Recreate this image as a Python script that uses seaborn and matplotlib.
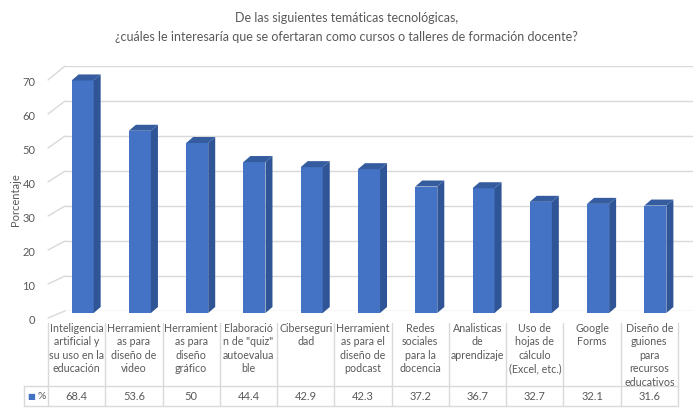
import numpy as np
import pandas as pd
import matplotlib
matplotlib.use("Agg")
import matplotlib.pyplot as plt
import seaborn as sns
from matplotlib.transforms import ScaledTranslation, blended_transform_factory
from matplotlib.patches import Polygon, ConnectionPatch
from matplotlib.lines import Line2D

# ---------------- data ----------------
title_lines = ["De las siguientes temáticas tecnológicas,",
               "¿cuáles le interesaría que se ofertaran como cursos o talleres de formación docente?"]
categories = ["Inteligencia\nartificial y\nsu uso en la\neducación",
              "Herramient\nas para\ndiseño de\nvideo",
              "Herramient\nas para\ndiseño\ngráfico",
              "Elaboració\nn de \"quiz\"\nautoevalua\nble",
              "Ciberseguri\ndad",
              "Herramient\nas para el\ndiseño de\npodcast",
              "Redes\nsociales\npara la\ndocencia",
              "Analisticas\nde\naprendizaje",
              "Uso de\nhojas de\ncálculo\n(Excel, etc.)",
              "Google\nForms",
              "Diseño de\nguiones\npara\nrecursos\neducativos"]
values = [68.4, 53.6, 50, 44.4, 42.9, 42.3, 37.2, 36.7, 32.7, 32.1, 31.6]
value_labels = ["68.4", "53.6", "50", "44.4", "42.9", "42.3", "37.2", "36.7", "32.7", "32.1", "31.6"]
series_name = "%"
y_ticks = [0, 10, 20, 30, 40, 50, 60, 70]
y_label = "Porcentaje"

# ---------------- style ----------------
sns.set_theme(style="white")
plt.rcParams["font.family"] = ["Lato", "DejaVu Sans"]
TXT = "#595959"
GRID = "#D9D9D9"
FRONT = "#4472C4"
SIDE = "#2F5597"
TOP = "#345C9F"

W, H, DPI = 693, 410, 100
fig = plt.figure(figsize=(W / DPI, H / DPI), dpi=DPI)

def fx(px):
    return px / W

def fy(py):
    return 1 - py / H

# back wall (gridlines)
back_left, back_right, back_y0, back_y70 = 65, 693, 312, 67
ax_back = fig.add_axes([fx(back_left), fy(back_y0), fx(back_right - back_left),
                        (back_y0 - back_y70) / H])
ax_back.set_ylim(0, 70)
ax_back.set_xlim(0, 1)
for s in ax_back.spines.values():
    s.set_visible(False)
ax_back.set_xticks([])
ax_back.set_yticks(y_ticks)
ax_back.tick_params(axis="y", length=0, labelleft=False)
ax_back.yaxis.grid(True, color=GRID, lw=1.0)
ax_back.set_facecolor("none")

# front axes (labels, bars)
col_left, col_right = 48, 678
front_y0, front_y70 = 319, 81
ax = fig.add_axes([fx(col_left), fy(front_y0), fx(col_right - col_left),
                   (front_y0 - front_y70) / H])
ax.set_facecolor("none")
df = pd.DataFrame({"cat": categories, "val": values})
sns.barplot(data=df, x="cat", y="val", color=FRONT, saturation=1, width=0.385,
            ax=ax, zorder=3)
ax.set_xlim(-0.5, len(categories) - 0.5)
ax.set_ylim(0, 70)
ax.set_yticks(y_ticks)
ax.set_yticklabels([str(t) for t in y_ticks], color=TXT, fontsize=8)
ax.tick_params(axis="y", length=0, pad=9)
ax.set_xticks([])
ax.set_xlabel("")
ax.set_ylabel(y_label, color=TXT, fontsize=8, labelpad=1)
for s in ax.spines.values():
    s.set_visible(False)

# 3D effect for bars
px_per_x = (col_right - col_left) / len(categories)
px_per_y = (front_y0 - front_y70) / 70.0
shift = ScaledTranslation(6 / DPI, 5 / DPI, fig.dpi_scale_trans)
ddx = 7 / px_per_x
ddy = 6 / px_per_y
bars = list(ax.patches)
for p in bars:
    p.set_transform(ax.transData + shift)
    p.set_edgecolor("none")
    x0 = p.get_x()
    w = p.get_width()
    h = p.get_height()
    side = Polygon([[x0 + w, 0], [x0 + w + ddx, ddy], [x0 + w + ddx, h + ddy], [x0 + w, h]],
                   closed=True, facecolor=SIDE, edgecolor="none",
                   transform=ax.transData + shift, zorder=3)
    top = Polygon([[x0, h], [x0 + ddx, h + ddy], [x0 + w + ddx, h + ddy], [x0 + w, h]],
                  closed=True, facecolor=TOP, edgecolor="none",
                  transform=ax.transData + shift, zorder=3)
    ax.add_patch(side)
    ax.add_patch(top)
    for q in (side, top):
        q.set_clip_on(False)
    p.set_clip_on(False)

# diagonal connectors (floor / wall edges)
for t in y_ticks:
    cp = ConnectionPatch(xyA=(0, t), coordsA=ax.get_yaxis_transform(),
                         xyB=(0, t), coordsB=ax_back.get_yaxis_transform(),
                         color=GRID, lw=1.0)
    fig.add_artist(cp)

# title
fig.text(0.5, fy(18), title_lines[0], ha="center", va="center", color=TXT, fontsize=9)
fig.text(0.5, fy(37), title_lines[1], ha="center", va="center", color=TXT, fontsize=9)

# data table
bt = blended_transform_factory(ax.transData, fig.transFigure)
tbl_top, row_y, tbl_bot = 324, 387, 407
leg_left = 24
for k in range(len(categories) + 1):
    fig.add_artist(Line2D([k - 0.5, k - 0.5], [fy(tbl_top), fy(tbl_bot)], transform=bt,
                          color=GRID, lw=1.0))
fig.add_artist(Line2D([fx(leg_left), fx(col_right)], [fy(row_y), fy(row_y)],
                      transform=fig.transFigure, color=GRID, lw=1.0))
fig.add_artist(Line2D([fx(leg_left), fx(col_right)], [fy(tbl_bot), fy(tbl_bot)],
                      transform=fig.transFigure, color=GRID, lw=1.0))
fig.add_artist(Line2D([fx(leg_left), fx(leg_left)], [fy(row_y), fy(tbl_bot)],
                      transform=fig.transFigure, color=GRID, lw=1.0))

for i, (c, v) in enumerate(zip(categories, value_labels)):
    fig.text(i, fy(323), c, transform=bt, ha="center", va="top",
             color=TXT, fontsize=7.7, linespacing=1.27, multialignment="center")
    fig.text(i, fy(397), v, transform=bt, ha="center", va="center",
             color=TXT, fontsize=8)

# legend key in table
fig.text(fx(27), fy(397), "■", ha="left", va="center", color=FRONT, fontsize=6,
         family=["DejaVu Sans"])
fig.text(fx(37), fy(397), series_name, ha="left", va="center", color=TXT, fontsize=7.5)

fig.savefig("out.png", dpi=DPI, facecolor="white")
